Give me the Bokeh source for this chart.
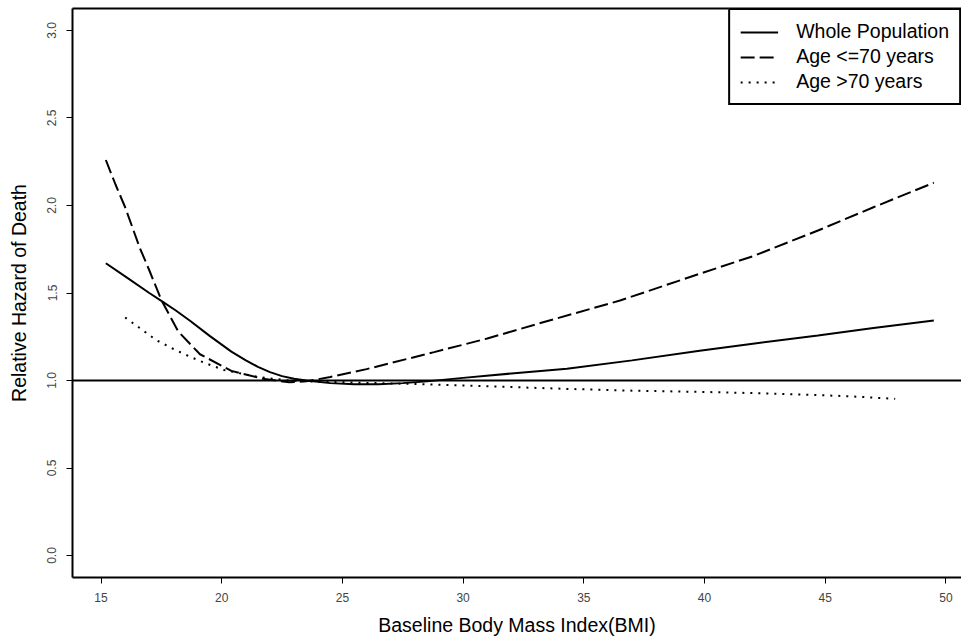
from bokeh.plotting import figure
from bokeh.models import (Legend, LegendItem, LinearAxis, FixedTicker,
                          PrintfTickFormatter, Span, Range1d)
from bokeh.embed import file_html
from bokeh.resources import INLINE

# ---- data ----
whole_x = [15.2, 16.0, 17.0, 17.5, 18.1, 18.7, 19.5, 20.4, 21.0, 21.5, 22.0, 22.5, 23.0,
           23.5, 24.5, 25.5, 26.5, 27.5, 28.5, 30.0, 32.0, 34.3, 37.0, 39.8, 42.0, 44.7,
           47.0, 49.5]
whole_y = [1.67, 1.595, 1.50, 1.455, 1.40, 1.34, 1.255, 1.165, 1.115, 1.078, 1.048, 1.025,
           1.01, 1.0, 0.985, 0.978, 0.978, 0.985, 0.995, 1.015, 1.04, 1.067, 1.115, 1.17,
           1.21, 1.257, 1.30, 1.343]

young_x = [15.2, 15.6, 16.0, 16.6, 17.0, 17.5, 18.2, 19.1, 20.4, 21.7, 22.8, 23.5,
           24.5, 26.0, 28.8, 31.0, 33.5, 36.5, 39.8, 42.0, 44.7, 47.0, 49.5]
young_y = [2.26, 2.12, 1.99, 1.76, 1.63, 1.46, 1.28, 1.15, 1.055, 1.01, 0.99, 0.995,
           1.02, 1.065, 1.162, 1.24, 1.34, 1.457, 1.61, 1.71, 1.857, 1.99, 2.13]

old_x = [16.0, 16.7, 17.3, 18.0, 18.7, 19.4, 20.1, 21.5, 22.8, 24.0, 25.5, 28.0,
         31.0, 34.3, 37.0, 39.8, 42.0, 44.0, 46.0, 47.9]
old_y = [1.36, 1.29, 1.23, 1.18, 1.135, 1.095, 1.06, 1.02, 1.0, 0.993, 0.988, 0.98,
         0.967, 0.952, 0.942, 0.935, 0.928, 0.92, 0.91, 0.895]

series_names = ["Whole Population", "Age <=70 years", "Age >70 years"]
ref_level = 1.0
x_ticks = [15, 20, 25, 30, 35, 40, 45, 50]
y_ticks = [0.0, 0.5, 1.0, 1.5, 2.0, 2.5, 3.0]

FONT = "Liberation Sans"

p = figure(width=961, height=639,
           x_range=Range1d(13.819, 50.646), y_range=Range1d(-0.1257, 3.1257),
           output_backend="svg", toolbar_location=None,
           min_border_left=72, min_border_right=0, min_border_top=8,
           min_border_bottom=62)
p.xgrid.visible = False
p.ygrid.visible = False
p.outline_line_color = None
p.background_fill_color = "white"
p.border_fill_color = "white"

for ax in (p.xaxis[0], p.yaxis[0]):
    ax.axis_line_width = 2
    ax.axis_line_color = "black"
    ax.major_tick_in = 0
    ax.major_tick_out = 6
    ax.major_tick_line_color = "black"
    ax.minor_tick_line_color = None
    ax.major_label_text_font = FONT
    ax.major_label_text_font_size = "12px"
    ax.major_label_text_color = "#444444"
    ax.axis_label_text_font = FONT
    ax.axis_label_text_font_size = "19.5px"
    ax.axis_label_text_font_style = "normal"
    ax.axis_label_text_color = "black"

p.xaxis.ticker = FixedTicker(ticks=x_ticks)
p.yaxis.ticker = FixedTicker(ticks=y_ticks)
p.yaxis.formatter = PrintfTickFormatter(format="%.1f")
p.xaxis.axis_label = "Baseline Body Mass Index(BMI)"
p.yaxis.axis_label = "Relative Hazard of Death"
p.yaxis.major_label_orientation = "vertical"
p.xaxis.major_label_standoff = 9
p.yaxis.major_label_standoff = 10
p.xaxis.axis_label_standoff = 9
p.yaxis.axis_label_standoff = 15

# top border of the box
top = LinearAxis(ticker=FixedTicker(ticks=[]), axis_line_width=2, axis_line_color="black",
                 major_tick_line_color=None, minor_tick_line_color=None,
                 major_label_text_font_size="0px", major_label_standoff=0)
p.add_layout(top, "above")

p.add_layout(Span(location=ref_level, dimension="width", line_color="black", line_width=2))

r1 = p.line(whole_x, whole_y, line_color="black", line_width=2)
r2 = p.line(young_x, young_y, line_color="black", line_width=2, line_dash="14 5")
r3 = p.line(old_x, old_y, line_color="black", line_width=2, line_dash="2 6")

legend = Legend(items=[LegendItem(label=series_names[0], renderers=[r1]),
                       LegendItem(label=series_names[1], renderers=[r2]),
                       LegendItem(label=series_names[2], renderers=[r3])],
                location="top_right", margin=0, padding=10, spacing=2,
                glyph_width=38, glyph_height=20, label_height=20, label_standoff=18,
                label_text_font=FONT, label_text_font_size="19.5px",
                label_text_color="black",
                border_line_color="black", border_line_width=2, border_line_alpha=1.0,
                background_fill_color="white", background_fill_alpha=1.0)
p.add_layout(legend)

open("out.html", "w").write(file_html(p, INLINE))
